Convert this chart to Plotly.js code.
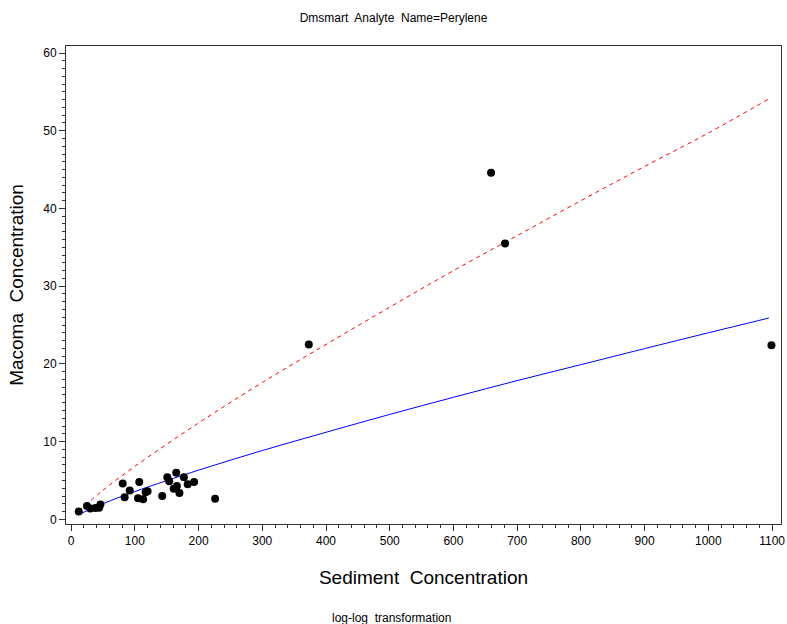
<!DOCTYPE html>
<html>
<head>
<meta charset="utf-8">
<script src="https://cdn.plot.ly/plotly-3.0.1.min.js"></script>
<style>html,body{margin:0;padding:0;background:#fff;}#chart{width:787px;height:624px;}</style>
</head>
<body>
<div id="chart"></div>
<script>
// Observed data: sediment vs macoma concentration
const sediment = [12, 25, 30, 38, 44, 46, 81, 84, 92, 107, 105, 113, 117, 120, 143, 151, 154, 165, 161, 166, 170, 177, 183, 193, 226, 373, 659, 681, 1099];
const macoma   = [1.0, 1.7, 1.4, 1.45, 1.5, 1.9, 4.6, 2.85, 3.7, 4.8, 2.7, 2.6, 3.5, 3.6, 3.0, 5.4, 4.9, 6.0, 3.95, 4.3, 3.4, 5.4, 4.5, 4.8, 2.65, 22.5, 44.6, 35.5, 22.4];

// Fitted curves
const fitX     = [12, 50, 100, 200, 300, 400, 500, 600, 700, 800, 900, 1000, 1095];
const redFitY  = [1.05, 3.74, 6.81, 12.4, 17.6, 22.5, 27.3, 32.0, 36.5, 41.0, 45.4, 49.7, 54.1];
const blueFitY = [0.62, 2.01, 3.57, 6.33, 8.85, 11.2, 13.5, 15.7, 17.85, 19.9, 21.97, 24.0, 25.9];

const xTicks = [0, 100, 200, 300, 400, 500, 600, 700, 800, 900, 1000, 1100];
const yTicks = [0, 10, 20, 30, 40, 50, 60];

const FONT = "Liberation Sans, Arial, sans-serif";

const traces = [
  {x: fitX, y: redFitY, mode: 'lines', line: {color: '#ff0000', width: 1, dash: '4px,4px', shape: 'spline'}, hoverinfo: 'skip'},
  {x: fitX, y: blueFitY, mode: 'lines', line: {color: '#0000ff', width: 1, shape: 'spline'}, hoverinfo: 'skip'},
  {x: sediment, y: macoma, mode: 'markers', marker: {color: '#000000', size: 8}}
];

const axisCommon = {
  showgrid: false, zeroline: false,
  showline: true, mirror: true, linecolor: '#333333', linewidth: 1,
  ticks: 'outside', ticklen: 6, tickwidth: 1, tickcolor: '#333333',
  tickfont: {family: FONT, size: 12, color: '#000'}
};

const layout = {
  width: 787, height: 624,
  margin: {l: 66, r: 6, t: 46, b: 100},
  paper_bgcolor: '#ffffff', plot_bgcolor: '#ffffff',
  showlegend: false,
  font: {family: FONT, color: '#000'},
  title: {text: 'Dmsmart  Analyte  Name=Perylene', font: {family: FONT, size: 12, color: '#000'}, x: 0.5, xanchor: 'center', y: 0.971, yanchor: 'middle'},
  xaxis: Object.assign({}, axisCommon, {
    range: [-8, 1114], tickvals: xTicks, ticktext: xTicks.map(String),
    minor: {dtick: 20, tick0: 0, ticks: 'outside', ticklen: 3, tickcolor: '#333333'},
    title: {text: 'Sediment  Concentration', font: {family: FONT, size: 19, color: '#000'}, standoff: 23}
  }),
  yaxis: Object.assign({}, axisCommon, {
    range: [-0.6, 60.9], tickvals: yTicks, ticktext: yTicks.map(String),
    minor: {dtick: 1, tick0: 0, ticks: 'outside', ticklen: 3, tickcolor: '#333333'},
    title: {text: 'Macoma  Concentration', font: {family: FONT, size: 19, color: '#000'}, standoff: 14}
  }),
  annotations: [
    {text: 'log-log  transformation', xref: 'paper', yref: 'paper', x: 0.455, y: -0.197, xanchor: 'center', yanchor: 'middle', showarrow: false, font: {family: FONT, size: 12, color: '#000'}}
  ]
};

Plotly.newPlot('chart', traces, layout, {displayModeBar: false, staticPlot: true});
</script>
</body>
</html>
